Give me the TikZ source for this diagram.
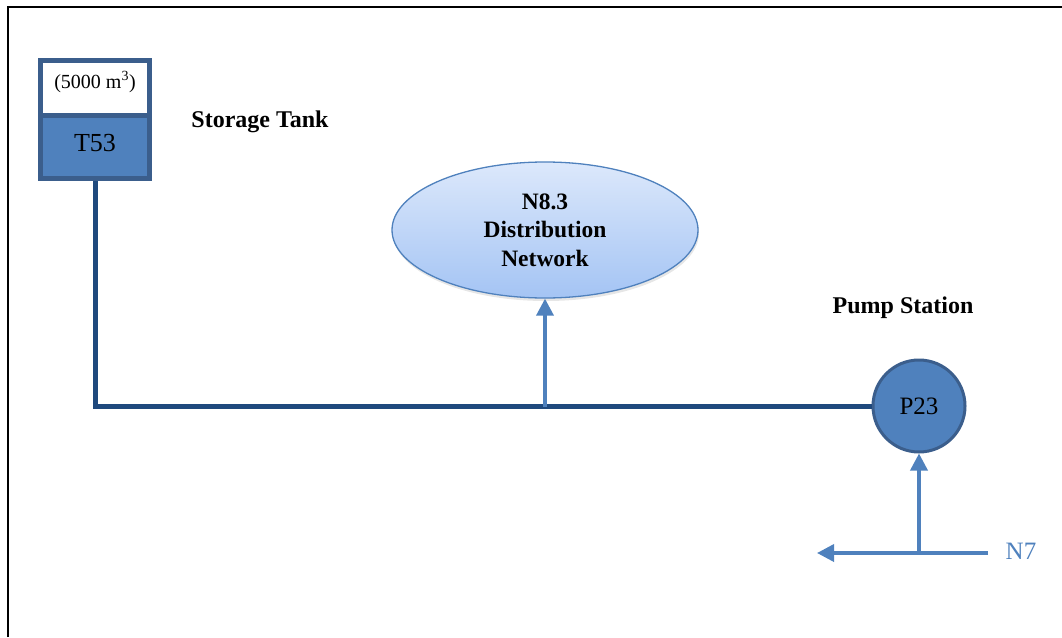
\documentclass[tikz,border=0pt]{standalone}
\usepackage{fontspec}
\setmainfont{Liberation Serif}
\usetikzlibrary{arrows.meta,shadows,shapes.geometric}
\definecolor{navy}{HTML}{1F497D}
\definecolor{midblue}{HTML}{4F81BD}
\definecolor{edgeblue}{HTML}{3B5E8C}
\definecolor{elltop}{HTML}{DCE8FB}
\definecolor{ellbot}{HTML}{A4C4F4}
\tikzset{
  tankpart/.style={draw=edgeblue, line width=5pt, rectangle, minimum width=109pt, inner sep=0pt},
  pipe/.style={draw=navy, line width=5pt},
  flow/.style={draw=midblue, line width=3.5pt, -{Triangle[length=17pt,width=17pt]}, color=midblue},
  boldlabel/.style={font=\fontsize{24}{28}\selectfont\bfseries, inner sep=0pt},
  net/.style={ellipse, draw=midblue, line width=1.3pt, top color=elltop, bottom color=ellbot,
     minimum width=306pt, minimum height=136pt, align=center, inner sep=0pt,
     font=\fontsize{23.5}{28.5}\selectfont\bfseries,
     drop shadow={shadow xshift=1pt, shadow yshift=-3pt, opacity=0.2}},
  pump/.style={circle, draw=edgeblue, line width=3pt, fill=midblue, minimum size=92pt, inner sep=0pt,
     font=\fontsize{25}{30}\selectfont},
}
\begin{document}
\begin{tikzpicture}[x=1pt,y=-1pt]
\useasboundingbox (0,0) rectangle (1062,637);
% frame
\draw[line width=2pt] (8,637) -- (8,6.5) -- (1062,6.5);
% tank
\node[tankpart, fill=white, minimum height=55pt] (tanktop) at (95,88) {};
\node[tankpart, fill=midblue, minimum height=63pt] (tankbot) at (95,147) {};
\node[font=\fontsize{20}{24}\selectfont, inner sep=0pt] (tanktxt) at (95,82) {(5000 m\textsuperscript{3})};
\node[font=\fontsize{26}{30}\selectfont, inner sep=0pt] (tankid) at (95,143) {T53};
\node[boldlabel] (stlabel) at (260,122) {Storage Tank};
% network
\node[net] (N83) at (545,230) {N8.3\\Distribution\\Network};
% pump
\node[pump] (P23) at (919,406) {P23};
\node[boldlabel] (pslabel) at (903,308) {Pump Station};
% main pipe
\coordinate (j1) at (545,407);
\draw[pipe] (tankbot.south) |- (P23.west);
\draw[flow] (j1) -- (N83.south);
% N7 inflow
\coordinate (n7s) at (988,553);
\coordinate (n7e) at (817,553);
\coordinate (j2) at (919,553);
\draw[flow] (n7s) -- (n7e);
\draw[flow] (j2) -- (P23.south);
\node[font=\fontsize{25}{30}\selectfont, text=midblue, inner sep=0pt] (N7) at (1021,551) {N7};
\end{tikzpicture}
\end{document}
